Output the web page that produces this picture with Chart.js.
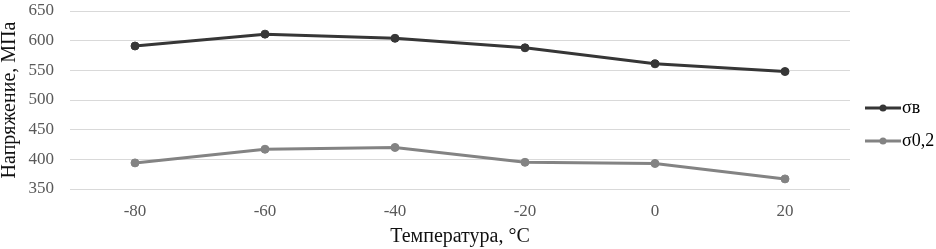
<!DOCTYPE html>
<html>
<head>
<meta charset="utf-8">
<script src="https://cdn.jsdelivr.net/npm/chart.js@4"></script>
<style>
  html, body { margin: 0; padding: 0; background: #fff; }
  #wrap { width: 936px; height: 249px; }
</style>
</head>
<body>
<div id="wrap"><canvas id="chart"></canvas></div>
<script>
// data
const temperatures = ['-80', '-60', '-40', '-20', '0', '20'];
const sigmaB = [591, 611, 604, 588, 561, 548];
const sigma02 = [394, 417, 420, 395, 393, 367];
const seriesNames = ['\u03C3\u0432', '\u03C30,2'];
const yTicks = [350, 400, 450, 500, 550, 600, 650];

const darkLine = '#363636';
const greyLine = '#838383';

// legend marker: short line with a dot, drawn in the right part of the image
function legendMarker(color) {
  const c = document.createElement('canvas');
  c.width = 44; c.height = 10;
  const g = c.getContext('2d');
  g.strokeStyle = color;
  g.lineWidth = 3;
  g.beginPath(); g.moveTo(8, 5); g.lineTo(44, 5); g.stroke();
  g.fillStyle = color;
  g.beginPath(); g.arc(26, 5, 3.5, 0, Math.PI * 2); g.fill();
  return c;
}

const ctx = document.getElementById('chart').getContext('2d');
new Chart(ctx, {
  type: 'line',
  data: {
    labels: temperatures,
    datasets: [
      {
        label: seriesNames[0],
        data: sigmaB,
        borderColor: darkLine,
        backgroundColor: darkLine,
        borderWidth: 3,
        pointRadius: 4,
        pointBorderWidth: 1,
        pointHoverRadius: 4,
      },
      {
        label: seriesNames[1],
        data: sigma02,
        borderColor: greyLine,
        backgroundColor: greyLine,
        borderWidth: 3,
        pointRadius: 4,
        pointBorderWidth: 1,
        pointHoverRadius: 4,
      },
    ],
  },
  options: {
    responsive: true,
    maintainAspectRatio: false,
    animation: false,
    layout: { padding: { top: 0, right: 0, bottom: 0, left: 0 } },
    plugins: {
      tooltip: { enabled: false },
      legend: {
        position: 'right',
        maxWidth: 86,
        labels: {
          usePointStyle: true,
          pointStyleWidth: 28,
          padding: 15,
          color: '#222',
          font: { family: 'Liberation Serif', size: 18 },
          generateLabels(chart) {
            return chart.data.datasets.map((ds, i) => ({
              text: ds.label,
              pointStyle: legendMarker(ds.borderColor),
              fillStyle: ds.borderColor,
              strokeStyle: ds.borderColor,
              lineWidth: 0,
              hidden: false,
              datasetIndex: i,
            }));
          },
        },
      },
    },
    scales: {
      x: {
        offset: true,
        afterFit(axis) { axis.height = 60; },
        grid: { display: false, drawTicks: false },
        border: { display: false },
        ticks: { color: '#595959', font: { family: 'Liberation Serif', size: 17 }, padding: 12 },
        title: {
          display: true,
          text: 'Температура, °C',
          color: '#111',
          font: { family: 'Liberation Serif', size: 20 },
          padding: { top: 0, bottom: 0 },
        },
      },
      y: {
        min: 350,
        max: 650,
        afterBuildTicks(axis) { axis.ticks = yTicks.map(v => ({ value: v })); },
        afterFit(axis) {
          axis.width = 70;
          axis.paddingTop = 11;
          axis.paddingBottom = 0;
        },
        grid: { color: '#d9d9d9', lineWidth: 1, drawTicks: false },
        border: { display: false },
        ticks: { color: '#595959', font: { family: 'Liberation Serif', size: 17 }, padding: 16 },
        title: {
          display: true,
          text: 'Напряжение, МПа',
          color: '#111',
          font: { family: 'Liberation Serif', size: 20, lineHeight: 1.0 },
          padding: { top: 0, bottom: 0 },
        },
      },
    },
  },
});
</script>
</body>
</html>
